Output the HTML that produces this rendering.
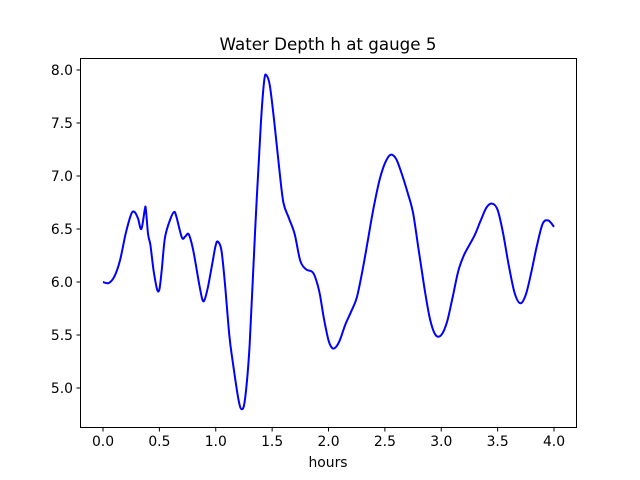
<!DOCTYPE html>
<html><head><meta charset="utf-8"><style>
html,body{margin:0;padding:0;background:#fff;}
svg{display:block;font-family:"DejaVu Sans","Liberation Sans",sans-serif;}
</style></head><body>
<svg id="s" width="640" height="480" viewBox="0 0 640 480">
<rect width="640" height="480" fill="#fff"/>
<text x="328" y="50" font-size="16.7" text-anchor="middle">Water Depth h at gauge 5</text>
<g id="ticks" font-size="13.9" fill="#000"></g>
<path id="p" fill="none" stroke="#0000ff" stroke-width="2" stroke-linejoin="round"/>
<rect x="80.5" y="58.5" width="496" height="369" fill="none" stroke="#000" stroke-width="1"/>
<text x="328" y="467" font-size="13.9" text-anchor="middle">hours</text>
</svg>
<script>
var d=[[0,6],[0.05,5.99],[0.1,6.05],[0.15,6.2],[0.2,6.45],[0.25,6.64],[0.28,6.66],[0.31,6.6],[0.34,6.5],[0.37,6.68],[0.38,6.69],[0.4,6.45],[0.42,6.35],[0.45,6.1],[0.48,5.93],[0.5,5.93],[0.52,6.1],[0.55,6.42],[0.6,6.6],[0.63,6.66],[0.65,6.62],[0.7,6.42],[0.73,6.43],[0.76,6.45],[0.8,6.3],[0.85,6.0],[0.88,5.84],[0.9,5.83],[0.93,5.95],[0.97,6.18],[1.0,6.35],[1.02,6.38],[1.05,6.3],[1.08,6.0],[1.12,5.5],[1.15,5.25],[1.2,4.9],[1.23,4.8],[1.26,4.9],[1.3,5.4],[1.35,6.5],[1.4,7.5],[1.43,7.9],[1.45,7.95],[1.48,7.85],[1.52,7.5],[1.56,7.1],[1.6,6.75],[1.65,6.6],[1.7,6.45],[1.75,6.2],[1.8,6.12],[1.85,6.1],[1.88,6.05],[1.92,5.9],[1.96,5.65],[2.0,5.45],[2.03,5.38],[2.06,5.38],[2.1,5.45],[2.15,5.6],[2.2,5.72],[2.25,5.85],[2.3,6.1],[2.35,6.4],[2.4,6.7],[2.45,6.95],[2.5,7.12],[2.55,7.2],[2.6,7.16],[2.65,7.02],[2.7,6.85],[2.75,6.65],[2.8,6.3],[2.85,5.95],[2.9,5.65],[2.95,5.5],[3.0,5.5],[3.05,5.62],[3.1,5.85],[3.15,6.1],[3.2,6.25],[3.25,6.35],[3.3,6.45],[3.35,6.58],[3.4,6.7],[3.45,6.74],[3.5,6.68],[3.55,6.45],[3.6,6.15],[3.65,5.9],[3.7,5.8],[3.75,5.88],[3.8,6.1],[3.85,6.35],[3.9,6.55],[3.95,6.58],[4.0,6.52]];
function X(h){return 103+h*112.75;}function Y(v){return 70+(8-v)*106;}
var P=d.map(function(p){return [X(p[0]),Y(p[1])];});
var s='M'+P[0][0].toFixed(1)+','+P[0][1].toFixed(1);
for(var i=0;i<P.length-1;i++){var p0=P[Math.max(i-1,0)],p1=P[i],p2=P[i+1],p3=P[Math.min(i+2,P.length-1)];
var c1x=p1[0]+(p2[0]-p0[0])/6,c1y=p1[1]+(p2[1]-p0[1])/6,c2x=p2[0]-(p3[0]-p1[0])/6,c2y=p2[1]-(p3[1]-p1[1])/6;
s+=' C'+c1x.toFixed(1)+','+c1y.toFixed(1)+' '+c2x.toFixed(1)+','+c2y.toFixed(1)+' '+p2[0].toFixed(1)+','+p2[1].toFixed(1);}
document.getElementById('p').setAttribute('d',s);
var g=document.getElementById('ticks'),h='';
for(var i=0;i<=8;i++){var x=X(i*0.5);h+='<line x1="'+x+'" x2="'+x+'" y1="427.5" y2="431.5" stroke="#000"/><text x="'+x+'" y="446" text-anchor="middle">'+(i*0.5).toFixed(1)+'</text>';}
for(var j=0;j<=6;j++){var v=5+j*0.5,y=Y(v);h+='<line x1="76.5" x2="80.5" y1="'+y+'" y2="'+y+'" stroke="#000"/><text x="73" y="'+(y+5)+'" text-anchor="end">'+v.toFixed(1)+'</text>';}
g.innerHTML=h;
</script>
</body></html>
